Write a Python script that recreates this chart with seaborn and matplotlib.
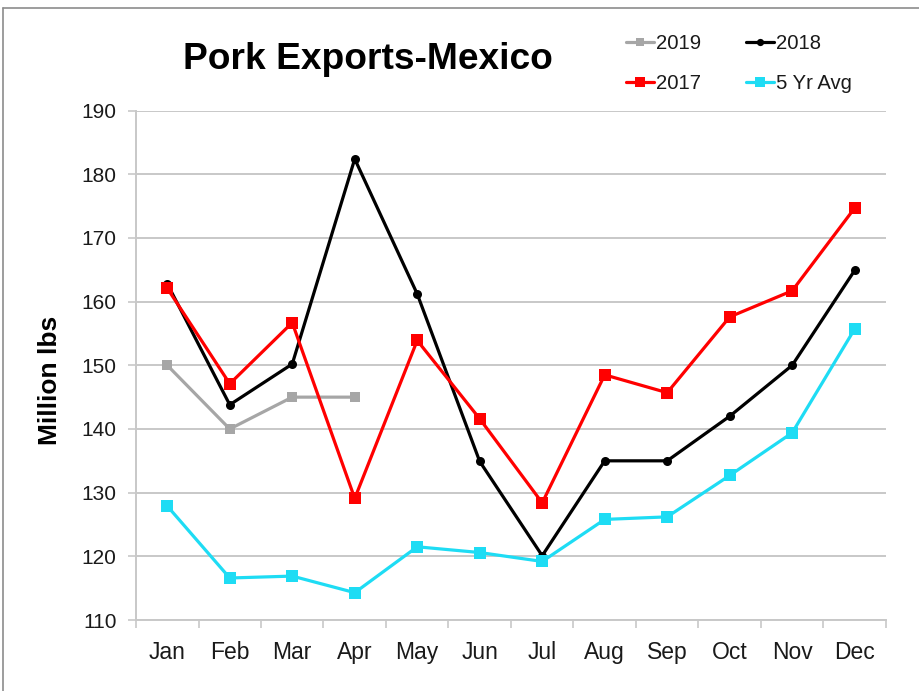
import matplotlib
matplotlib.use("Agg")
import matplotlib.pyplot as plt
from matplotlib.lines import Line2D
from matplotlib.ticker import FixedLocator, MultipleLocator
import seaborn as sns
import pandas as pd

months = ["Jan", "Feb", "Mar", "Apr", "May", "Jun",
          "Jul", "Aug", "Sep", "Oct", "Nov", "Dec"]

exports_2019 = [150.0, 140.0, 145.0, 145.0]
exports_2018 = [162.8, 143.8, 150.2, 182.4, 161.2, 134.9,
                120.1, 135.0, 135.0, 142.0, 150.0, 164.9]
exports_2017 = [162.1, 147.1, 156.7, 129.1, 153.9, 141.6,
                128.4, 148.5, 145.7, 157.6, 161.7, 174.7]
avg_5yr = [127.9, 116.6, 116.9, 114.3, 121.5, 120.6,
           119.2, 125.8, 126.2, 132.7, 139.4, 155.7]

series_names = ["2019", "2018", "2017", "5 Yr Avg"]
series_values = [exports_2019, exports_2018, exports_2017, avg_5yr]
series_colors = ["#A6A6A6", "#000000", "#FF0000", "#1EDCF4"]
series_markers = ["s", "o", "s", "s"]
series_msize = [6.5, 6.5, 8.5, 8.5]

sns.set_theme(style="white")
plt.rcParams["font.family"] = ["Liberation Sans", "DejaVu Sans"]

text_col = "#1A1A1A"

fig = plt.figure(figsize=(9.19, 6.91), dpi=100)
ax = fig.add_axes([0.148, 0.1027, 0.816, 0.7373])

handles = {}
for name, vals, col, mk, ms in zip(series_names, series_values, series_colors,
                                   series_markers, series_msize):
    df = pd.DataFrame({"pos": list(range(len(vals))), "value": vals})
    sns.lineplot(data=df, x="pos", y="value", ax=ax, color=col, linewidth=2.3,
                 marker=mk, markersize=ms, markeredgewidth=0, label=name,
                 legend=False)
    handles[name] = Line2D([], [], color=col, linewidth=2.3, marker=mk,
                           markersize=ms * 0.8, markeredgewidth=0)

ax.set_xlim(-0.5, 11.5)
ax.set_ylim(110, 190)
ax.yaxis.set_major_locator(MultipleLocator(10))
ax.set_xticks(range(12))
ax.set_xticklabels(months)
ax.xaxis.set_minor_locator(FixedLocator([i + 0.5 for i in range(-1, 12)]))

grid_col = "#C8C8C8"
ax.grid(axis="y", color=grid_col, linewidth=1.4)
ax.grid(axis="x", visible=False)
ax.set_axisbelow(True)
for side in ["top", "right"]:
    ax.spines[side].set_visible(False)
for side in ["left", "bottom"]:
    ax.spines[side].set_color(grid_col)
    ax.spines[side].set_linewidth(1.4)

ax.tick_params(axis="y", which="major", direction="out", length=6, width=1.2,
               color=grid_col, pad=8, labelsize=15, labelcolor=text_col, left=True)
ax.tick_params(axis="x", which="major", length=0, pad=15, labelsize=16.5,
               labelcolor=text_col)
ax.tick_params(axis="x", which="minor", direction="out", length=6, width=1.2,
               color=grid_col, bottom=True)

ax.set_xlabel("")
ax.set_ylabel("Million lbs", fontsize=19, fontweight="bold", labelpad=14,
              color="black")
ax.yaxis.label.set_y(0.47)

fig.text(0.199, 0.8997, "Pork Exports-Mexico", fontsize=26.7, fontweight="bold",
         ha="left", va="baseline", color="black")

order = ["2019", "2017", "2018", "5 Yr Avg"]
ax.legend([handles[k] for k in order], order, ncol=2, frameon=False,
          loc="center", bbox_to_anchor=(0.804, 0.908), bbox_transform=fig.transFigure,
          fontsize=14.6, handlelength=1.38, handletextpad=0.1, columnspacing=2.2,
          labelspacing=1.05, labelcolor=text_col)

# thin frame along the top and left edges of the figure
fig.add_artist(Line2D([0.003, 1.0], [0.988, 0.988], transform=fig.transFigure,
                      color="#8C8C8C", linewidth=1.2))
fig.add_artist(Line2D([0.0035, 0.0035], [0.0, 0.988], transform=fig.transFigure,
                      color="#8C8C8C", linewidth=1.2))

fig.savefig("out.png", dpi=100)
